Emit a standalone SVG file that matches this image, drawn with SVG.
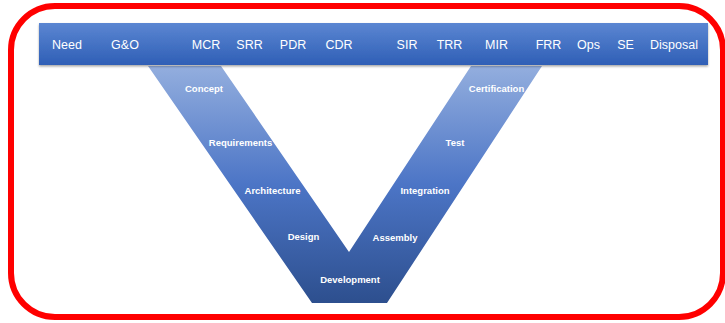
<svg xmlns="http://www.w3.org/2000/svg" width="725" height="323" viewBox="0 0 725 323">
  <defs>
    <linearGradient id="bandFill" x1="0" y1="0" x2="0" y2="1">
      <stop offset="0" stop-color="#5b86d2"/>
      <stop offset="1" stop-color="#2f5fb6"/>
    </linearGradient>
    <linearGradient id="vFill" gradientUnits="userSpaceOnUse" x1="0" y1="66" x2="0" y2="303">
      <stop offset="0" stop-color="#93aede"/>
      <stop offset="0.5" stop-color="#4c75c6"/>
      <stop offset="1" stop-color="#2d4f8e"/>
    </linearGradient>
    <filter id="shadow" x="-5%" y="-20%" width="110%" height="150%">
      <feDropShadow dx="0" dy="1.5" stdDeviation="1" flood-color="#000" flood-opacity="0.35"/>
    </filter>
  </defs>
  <style>
    .milestone { font-family: "Liberation Sans", Arial, sans-serif; font-size: 12.5px; fill: #ffffff; text-anchor: middle; }
    .phase { font-family: "Liberation Sans", Arial, sans-serif; font-size: 9.5px; font-weight: bold; fill: #ffffff; text-anchor: middle; }
  </style>

  <rect width="725" height="323" fill="#ffffff"/>

  <!-- outer frame -->
  <rect x="11" y="6" width="712" height="311" rx="44" ry="44" fill="none" stroke="#ff0000" stroke-width="6"/>

  <!-- lifecycle V -->
  <g id="v-model">
    <polygon points="148,66 221,66 349,252 471,66 542,66 387,303 312,303" fill="url(#vFill)"/>
    <text class="phase" x="204" y="92">Concept</text>
    <text class="phase" x="240.5" y="146">Requirements</text>
    <text class="phase" x="272.5" y="194">Architecture</text>
    <text class="phase" x="303.5" y="240">Design</text>
    <text class="phase" x="350" y="283">Development</text>
    <text class="phase" x="395" y="241">Assembly</text>
    <text class="phase" x="425" y="194">Integration</text>
    <text class="phase" x="455" y="146">Test</text>
    <text class="phase" x="496.5" y="92">Certification</text>
  </g>

  <!-- milestone band -->
  <g id="milestones">
    <rect x="39" y="23" width="669" height="42" fill="url(#bandFill)" filter="url(#shadow)"/>
    <text class="milestone" x="67" y="48.5">Need</text>
    <text class="milestone" x="125" y="48.5">G&amp;O</text>
    <text class="milestone" x="206" y="48.5">MCR</text>
    <text class="milestone" x="249.5" y="48.5">SRR</text>
    <text class="milestone" x="293" y="48.5">PDR</text>
    <text class="milestone" x="339" y="48.5">CDR</text>
    <text class="milestone" x="407" y="48.5">SIR</text>
    <text class="milestone" x="449.5" y="48.5">TRR</text>
    <text class="milestone" x="496.5" y="48.5">MIR</text>
    <text class="milestone" x="548.5" y="48.5">FRR</text>
    <text class="milestone" x="588.5" y="48.5">Ops</text>
    <text class="milestone" x="625.5" y="48.5">SE</text>
    <text class="milestone" x="674" y="48.5">Disposal</text>
  </g>
</svg>
